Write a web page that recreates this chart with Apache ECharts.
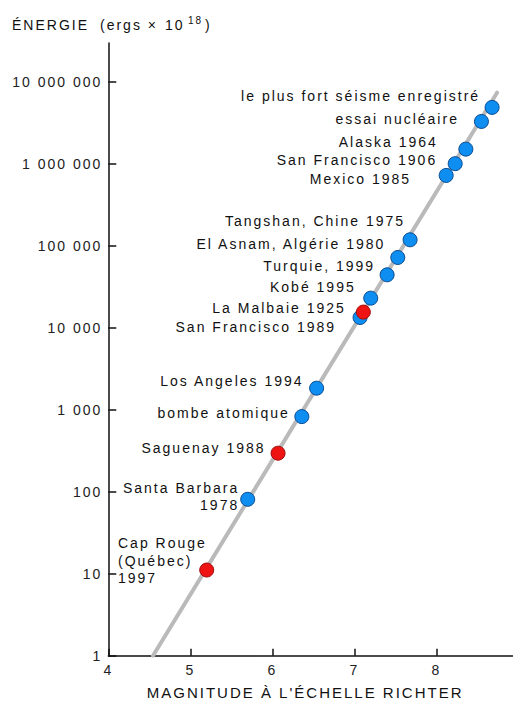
<!DOCTYPE html>
<html>
<head>
<meta charset="utf-8">
<script src="https://cdn.jsdelivr.net/npm/echarts@6.0.0/dist/echarts.min.js"></script>
<style>
  html, body { margin: 0; padding: 0; background: #ffffff; }
  #chart { width: 513px; height: 701px; letter-spacing: 2px; }
</style>
</head>
<body>
<div id="chart"></div>
<script>
// Earthquakes and explosions (blue)
const blueNames = [
  'le plus fort séisme enregistré',
  'essai nucléaire',
  'Alaska 1964',
  'San Francisco 1906',
  'Mexico 1985',
  'Tangshan, Chine 1975',
  'El Asnam, Algérie 1980',
  'Turquie, 1999',
  'Kobé 1995',
  'San Francisco 1989',
  'Los Angeles 1994',
  'bombe atomique',
  'Santa Barbara\n1978'
];
const blueMagnitude = [8.68, 8.55, 8.36, 8.23, 8.12, 7.68, 7.53, 7.40, 7.20, 7.07, 6.54, 6.36, 5.70];
const blueEnergy = [4910000, 3310000, 1520000, 1010000, 726000, 119000, 72400, 44500, 23100, 13400, 1840, 828, 81];

// Québec earthquakes (red)
const redNames = ['La Malbaie 1925', 'Saguenay 1988', 'Cap Rouge\n(Québec)\n1997'];
const redMagnitude = [7.11, 6.07, 5.20];
const redEnergy = [15600, 296, 11.1];

// Magnitude–energy relation drawn as a straight line on the log scale
const trendMagnitude = [4.545, 8.74];
const trendEnergy = [1, 7430000];

// Axis ticks
const energyTicks = [1, 10, 100, 1000, 10000, 100000, 1000000, 10000000];
const magnitudeTicks = [4, 5, 6, 7, 8];

// Label placement relative to each marker centre: [dx, dy, align]
const blueLabelPlace = [
  [-12, -11.7, 'right'],
  [-22.5, -2.4, 'right'],
  [-28, -7.6, 'right'],
  [-18, -4, 'right'],
  [-35, 3.3, 'right'],
  [-5, -18.3, 'right'],
  [-12.5, -13.7, 'right'],
  [-12, -8.3, 'right'],
  [-15, -11, 'right'],
  [-24, 9, 'right'],
  [-13, -7.6, 'right'],
  [-12, -3.4, 'right'],
  [-8.5, -2.8, 'right']
];
const redLabelPlace = [
  [-17.5, -4.6, 'right'],
  [-12.5, -5, 'right'],
  [-88.7, -9.4, 'left']
];

const FONT = "'Liberation Sans', Arial, sans-serif";
const INK = '#111111';

function withThinSpaces(v) {
  return String(Math.round(v)).replace(/\B(?=(\d{3})+(?!\d))/g, ' ');
}

function buildPoints(names, mags, energies, places) {
  return names.map((n, i) => ({
    name: n,
    value: [mags[i], energies[i]],
    label: { offset: [places[i][0], places[i][1]], align: places[i][2] }
  }));
}

function titlePiece(text, x, y, size) {
  return {
    type: 'text',
    x: x,
    y: y,
    silent: true,
    style: {
      text: text,
      fill: INK,
      font: 'normal ' + size + 'px ' + FONT,
      align: 'left',
      verticalAlign: 'middle'
    }
  };
}

const chart = echarts.init(document.getElementById('chart'), null, { renderer: 'svg' });

const pointLabel = {
  show: true,
  position: 'inside',
  formatter: '{b}',
  color: INK,
  fontFamily: FONT,
  fontSize: 14,
  lineHeight: 17.5,
  verticalAlign: 'middle'
};

chart.setOption({
  animation: false,
  backgroundColor: '#ffffff',
  // Y-axis heading with the ×10^18 exponent raised
  graphic: [
    titlePiece('ÉNERGIE', 12, 25, 14),
    titlePiece('(ergs ×', 100, 25, 14),
    titlePiece('10', 165, 25, 14),
    titlePiece('18', 188, 20.5, 10),
    titlePiece(')', 205, 25, 14)
  ],
  grid: {
    left: 108.3, right: 0, top: 43, bottom: 45.3,
    containLabel: false,
    outerBoundsMode: 'none'
  },
  xAxis: {
    type: 'value',
    min: 4,
    max: 8.935,
    interval: 1,
    name: "MAGNITUDE À L'ÉCHELLE RICHTER",
    nameLocation: 'middle',
    nameGap: 29,
    nameTextStyle: { fontFamily: FONT, fontSize: 15, color: INK, padding: [0, 11, 0, 0] },
    axisLine: { lineStyle: { color: INK, width: 1.5 } },
    axisTick: { inside: true, length: 7, customValues: magnitudeTicks, lineStyle: { color: INK, width: 1.5 } },
    axisLabel: { customValues: magnitudeTicks, fontFamily: FONT, fontSize: 14, color: '#222222', margin: 7 },
    splitLine: { show: false }
  },
  yAxis: {
    type: 'log',
    min: 1,
    max: 30000000,
    axisLine: { show: true, lineStyle: { color: INK, width: 1.5 } },
    axisTick: { show: true, inside: true, length: 8, customValues: energyTicks, lineStyle: { color: INK, width: 1.5 } },
    axisLabel: {
      customValues: energyTicks,
      formatter: withThinSpaces,
      fontFamily: FONT,
      fontSize: 14,
      color: '#222222',
      margin: 6
    },
    splitLine: { show: false }
  },
  series: [
    {
      type: 'line',
      data: trendMagnitude.map((m, i) => [m, trendEnergy[i]]),
      showSymbol: false,
      symbol: 'none',
      lineStyle: { color: '#bababa', width: 4, cap: 'round' },
      silent: true,
      z: 1
    },
    {
      type: 'scatter',
      data: buildPoints(blueNames, blueMagnitude, blueEnergy, blueLabelPlace),
      symbolSize: 14,
      itemStyle: { color: '#0d8ef0', borderColor: '#0b4a90', borderWidth: 1, opacity: 1 },
      label: pointLabel,
      z: 3
    },
    {
      type: 'scatter',
      data: buildPoints(redNames, redMagnitude, redEnergy, redLabelPlace),
      symbolSize: 14,
      itemStyle: { color: '#ee1414', borderColor: '#a00c0c', borderWidth: 1, opacity: 1 },
      label: pointLabel,
      z: 4
    }
  ]
});
</script>
</body>
</html>
